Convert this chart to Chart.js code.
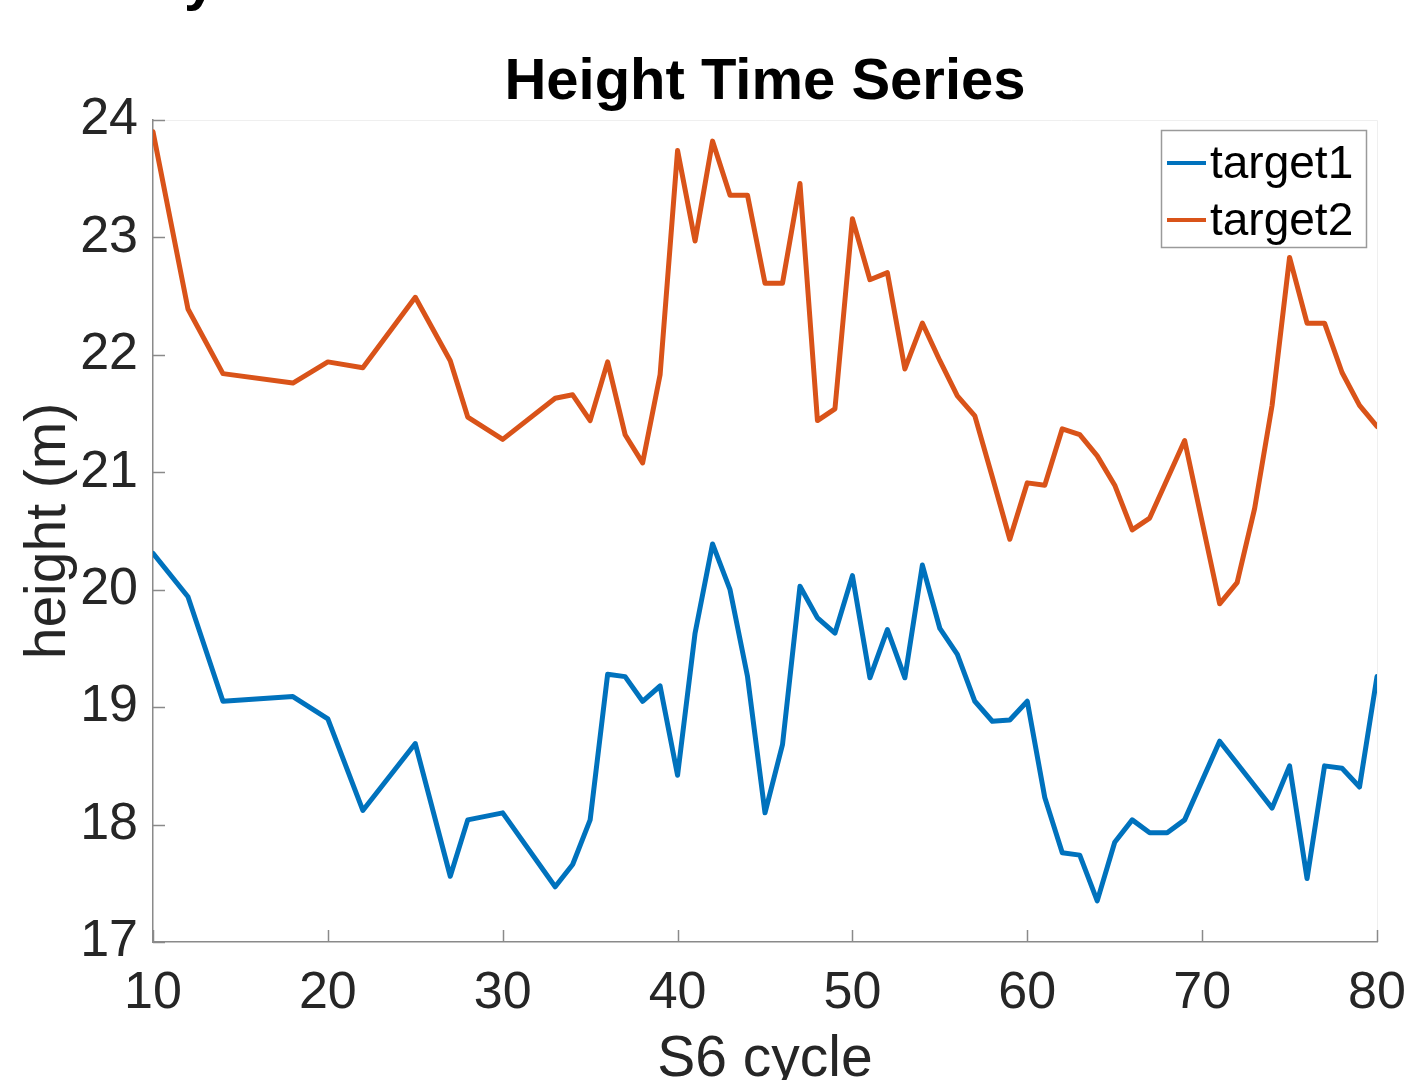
<!DOCTYPE html>
<html>
<head>
<meta charset="utf-8">
<script src="https://cdn.jsdelivr.net/npm/chart.js@4/dist/chart.umd.min.js"></script>
<style>
  html, body { margin: 0; padding: 0; background: #fff; }
  #wrap { width: 1412px; height: 1080px; }
</style>
</head>
<body>
<div id="wrap"><canvas id="myChart" width="1412" height="1080"></canvas></div>
<script>
var cycles = [10, 12, 14, 18, 20, 22, 25, 27, 28, 30, 33, 34, 35, 36, 37, 38, 39, 40, 41, 42,
              43, 44, 45, 46, 47, 48, 49, 50, 51, 52, 53, 54, 55, 56, 57, 58, 59, 60, 61, 62,
              63, 64, 65, 66, 67, 68, 69, 71, 72, 73, 74, 75, 76, 77, 78, 79, 80];
var target1 = [20.31, 19.94, 19.05, 19.09, 18.90, 18.12, 18.69, 17.56, 18.04, 18.10, 17.47, 17.66, 18.04, 19.28, 19.26, 19.05, 19.18, 18.42, 19.63, 20.39,
               20.00, 19.26, 18.10, 18.68, 20.03, 19.76, 19.63, 20.12, 19.25, 19.66, 19.25, 20.21, 19.67, 19.45, 19.05, 18.88, 18.89, 19.05, 18.23, 17.76,
               17.74, 17.35, 17.85, 18.04, 17.93, 17.93, 18.04, 18.71, 18.52, 18.33, 18.14, 18.50, 17.54, 18.50, 18.48, 18.32, 19.26];
var target2 = [23.90, 22.39, 21.84, 21.76, 21.94, 21.89, 22.49, 21.95, 21.47, 21.28, 21.63, 21.66, 21.44, 21.94, 21.32, 21.08, 21.83, 23.74, 22.97, 23.82,
               23.36, 23.36, 22.61, 22.61, 23.46, 21.44, 21.54, 23.16, 22.64, 22.70, 21.88, 22.27, 21.95, 21.65, 21.48, 20.96, 20.43, 20.91, 20.89, 21.37,
               21.32, 21.14, 20.89, 20.51, 20.61, 20.94, 21.27, 19.88, 20.06, 20.69, 21.57, 22.83, 22.27, 22.27, 21.85, 21.57, 21.39];
var xTicks = [10, 20, 30, 40, 50, 60, 70, 80];
var yTicks = [17, 18, 19, 20, 21, 22, 23, 24];

var blue = '#0072BD';
var orange = '#D95319';
var axisGray = '#8a8a8a';
var font = '"Liberation Sans", Arial, Helvetica, sans-serif';

function pts(ys) {
    return cycles.map(function (c, i) { return { x: c, y: ys[i] }; });
}

// title, inward ticks, light box, legend
var matlabLook = {
    id: 'matlabLook',
    afterDraw: function (chart) {
        var ctx = chart.ctx;
        var a = chart.chartArea;
        var xs = chart.scales.x, ys = chart.scales.y;
        ctx.save();

        // faint top/right box
        ctx.strokeStyle = '#efefef';
        ctx.lineWidth = 1;
        ctx.beginPath();
        ctx.moveTo(a.left, a.top + 0.5);
        ctx.lineTo(a.right + 0.5, a.top + 0.5);
        ctx.lineTo(a.right + 0.5, a.bottom);
        ctx.stroke();

        // inward ticks
        ctx.strokeStyle = axisGray;
        ctx.lineWidth = 1.5;
        ctx.beginPath();
        yTicks.forEach(function (v) {
            var p = Math.round(ys.getPixelForValue(v)) + 0.5;
            ctx.moveTo(a.left, p);
            ctx.lineTo(a.left + 12, p);
        });
        xTicks.forEach(function (v) {
            var p = Math.round(xs.getPixelForValue(v)) + 0.5;
            ctx.moveTo(p, a.bottom);
            ctx.lineTo(p, a.bottom - 12);
        });
        ctx.stroke();

        // title
        ctx.fillStyle = '#000';
        ctx.font = 'bold 58px ' + font;
        ctx.textAlign = 'center';
        ctx.textBaseline = 'alphabetic';
        ctx.fillText('Height Time Series', (a.left + a.right) / 2, 99);

        // clipped glyph from the panel above
        ctx.textAlign = 'left';
        ctx.fillText('y', 184, -1);

        // legend
        var lx = 1161, ly = 130, lw = 205, lh = 117;
        ctx.fillStyle = '#fff';
        ctx.fillRect(lx, ly, lw, lh);
        ctx.strokeStyle = '#9a9a9a';
        ctx.lineWidth = 1.5;
        ctx.strokeRect(lx + 0.5, ly + 0.5, lw, lh);
        ctx.font = '46px ' + font;
        ctx.textBaseline = 'middle';
        chart.data.datasets.forEach(function (ds, i) {
            var cy = ly + 33 + i * 57;
            ctx.strokeStyle = ds.borderColor;
            ctx.lineWidth = 4;
            ctx.beginPath();
            ctx.moveTo(lx + 6, cy);
            ctx.lineTo(lx + 45, cy);
            ctx.stroke();
            ctx.fillStyle = '#000';
            ctx.fillText(ds.label, lx + 49, cy + 2);
        });
        ctx.restore();
    }
};

var ctx = document.getElementById('myChart');

var myChart = new Chart(ctx, {
    type: 'line',
    data: {
        datasets: [
            {
                label: 'target1',
                data: pts(target1),
                borderColor: blue,
                borderWidth: 5,
                borderJoinStyle: 'round',
                borderCapStyle: 'round',
                pointRadius: 0,
                tension: 0,
                fill: false
            },
            {
                label: 'target2',
                data: pts(target2),
                borderColor: orange,
                borderWidth: 5,
                borderJoinStyle: 'round',
                borderCapStyle: 'round',
                pointRadius: 0,
                tension: 0,
                fill: false
            }
        ]
    },
    options: {
        responsive: false,
        animation: false,
        devicePixelRatio: 1,
        layout: { padding: { top: 120, right: 35, left: 0, bottom: 0 } },
        plugins: {
            legend: { display: false },
            tooltip: { enabled: false },
            title: { display: false }
        },
        scales: {
            x: {
                type: 'linear',
                min: 10,
                max: 80,
                afterBuildTicks: function (s) { s.ticks = xTicks.map(function (v) { return { value: v }; }); },
                afterFit: function (s) {
                    s.height = 138;
                    s.paddingRight = 0;
                    s.paddingLeft = 0;
                },
                grid: { display: false, drawTicks: false },
                border: { display: true, color: axisGray, width: 1.5 },
                ticks: {
                    padding: 20,
                    color: '#262626',
                    font: { family: font, size: 52 },
                    maxRotation: 0
                },
                title: {
                    display: true,
                    text: 'S6 cycle',
                    color: '#262626',
                    font: { family: font, size: 57 },
                    padding: { top: 0, bottom: -14 }
                }
            },
            y: {
                type: 'linear',
                min: 17,
                max: 24,
                afterBuildTicks: function (s) { s.ticks = yTicks.map(function (v) { return { value: v }; }); },
                afterFit: function (s) { s.width = 153; },
                grid: { display: false, drawTicks: false },
                border: { display: true, color: axisGray, width: 1.5 },
                ticks: {
                    padding: 15,
                    color: '#262626',
                    font: { family: font, size: 52 }
                },
                title: {
                    display: true,
                    text: 'height (m)',
                    color: '#262626',
                    font: { family: font, size: 57 },
                    padding: { top: 15, bottom: 0 }
                }
            }
        }
    },
    plugins: [matlabLook]
});
</script>
</body>
</html>
